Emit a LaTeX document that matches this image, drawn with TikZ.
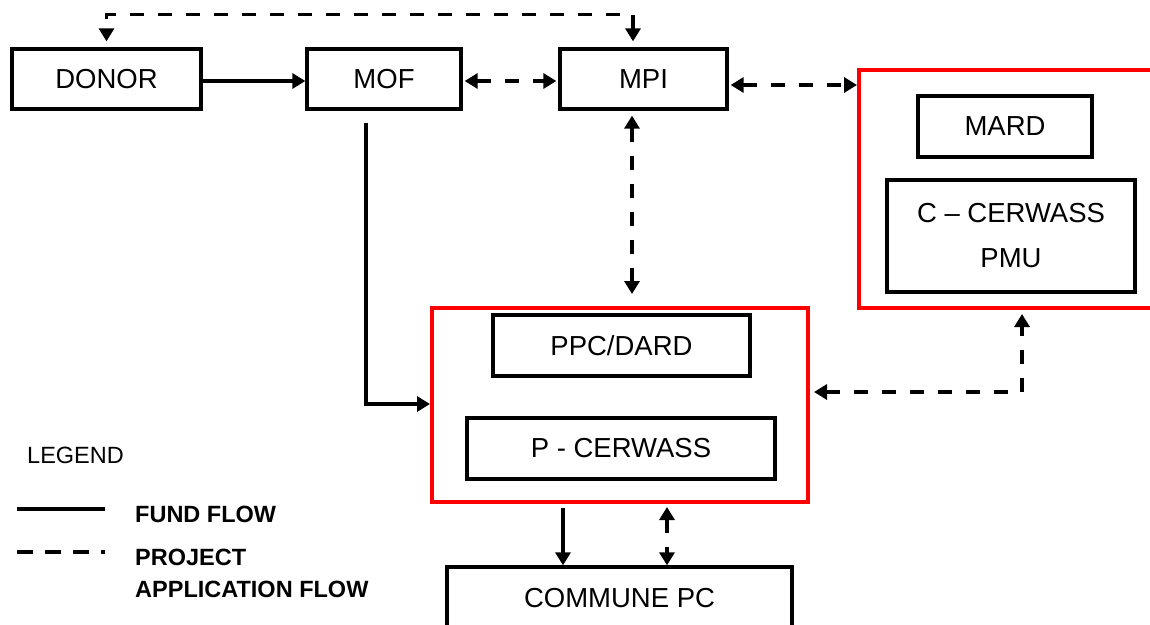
\documentclass[tikz,border=0pt]{standalone}
\usepackage{fontspec}
\setmainfont{Liberation Sans}
\usepackage{tikz}
\usetikzlibrary{arrows.meta}

\begin{document}
\begin{tikzpicture}
[x=1pt,y=-1pt,>={Triangle[length=13pt,width=15pt]},
 box/.style={draw,rectangle,line width=3.3pt,inner sep=0pt,align=center,
   font=\fontsize{27.5}{45}\selectfont},
 grp/.style={draw=red,rectangle,line width=4pt,inner sep=0pt},
 fund/.style={line width=3.2pt,->},
 apply/.style={line width=3.2pt,dash pattern=on 14pt off 14pt,<->},
 lgd/.style={inner sep=0pt,anchor=base west,font=\fontsize{23.5}{32}\selectfont}]
\clip (0,0) rectangle (1150,624);
% top row
\node[box,minimum width=189pt,minimum height=60pt] (donor) at (106.5,79) {DONOR};
\node[box,minimum width=154pt,minimum height=60pt] (mof) at (384,79) {MOF};
\node[box,minimum width=167pt,minimum height=60pt] (mpi) at (643.5,79) {MPI};
% central level
\node[grp,minimum width=306pt,minimum height=238pt] (central) at (1012,189) {};
\node[box,minimum width=174pt,minimum height=61pt] (mard) at (1005,126.5) {MARD};
\node[box,minimum width=248pt,minimum height=112pt] (cpmu) at (1011,236) {C -- CERWASS\\PMU};
% provincial level
\node[grp,minimum width=376pt,minimum height=194pt] (prov) at (620,405) {};
\node[box,minimum width=257pt,minimum height=61pt] (ppc) at (621.5,345.5) {PPC/DARD};
\node[box,minimum width=308pt,minimum height=61pt] (pcer) at (621,448.5) {P - CERWASS};
\node[box,minimum width=345pt,minimum height=63pt] (commune) at (619.5,598.5) {COMMUNE PC};
% flows
\draw[apply,shorten <=6pt,shorten >=6pt] ([xshift=-10.5pt]mpi.north) -- ++(0,-33) -| (donor.north);
\draw[fund] ([yshift=-2pt]donor.east) -- ([yshift=-2pt]mof.west);
\draw[apply,shorten <=2pt,shorten >=2pt] ([yshift=-2pt]mof.east) -- ([yshift=-2pt]mpi.west);
\draw[apply,shorten <=2pt] ([yshift=-6pt]mpi.east) -- ([yshift=-6pt]mpi.east -| central.west);
\draw[apply,shorten <=5pt,shorten >=12pt] ([xshift=-11.5pt]mpi.south) -- ([xshift=-11.5pt]mpi.south |- prov.north);
\draw[fund,shorten <=12pt] ([xshift=-18pt]mof.south) |- ([yshift=1pt]prov.west);
\draw[apply,shorten <=4pt,shorten >=4pt] ([yshift=13pt]prov.east) -| ([xshift=10pt]central.south);
\draw[fund,shorten <=4pt] ([xshift=-57pt]prov.south) -- ([xshift=-57pt]prov.south |- commune.north);
\draw[apply,shorten <=3pt] ([xshift=47pt]prov.south) -- ([xshift=47pt]prov.south |- commune.north);
% legend
\node[lgd] (legend) at (27,463) {LEGEND};
\coordinate (fa) at (17,509);
\coordinate (fb) at (105,509);
\coordinate (pa) at (17,552);
\coordinate (pb) at (105,552);
\draw[line width=4pt] (fa) -- (fb);
\draw[line width=4pt,dash pattern=on 16pt off 12pt] (pa) -- (pb);
\node[lgd,font=\fontsize{23.5}{32}\selectfont\bfseries] (lfund) at (135,522) {FUND FLOW};
\node[lgd,font=\fontsize{23.5}{32}\selectfont\bfseries] (lapp) at (135,565) {PROJECT};
\node[lgd,font=\fontsize{23.5}{32}\selectfont\bfseries] (lapp2) at (135,597) {APPLICATION FLOW};
\end{tikzpicture}
\end{document}
